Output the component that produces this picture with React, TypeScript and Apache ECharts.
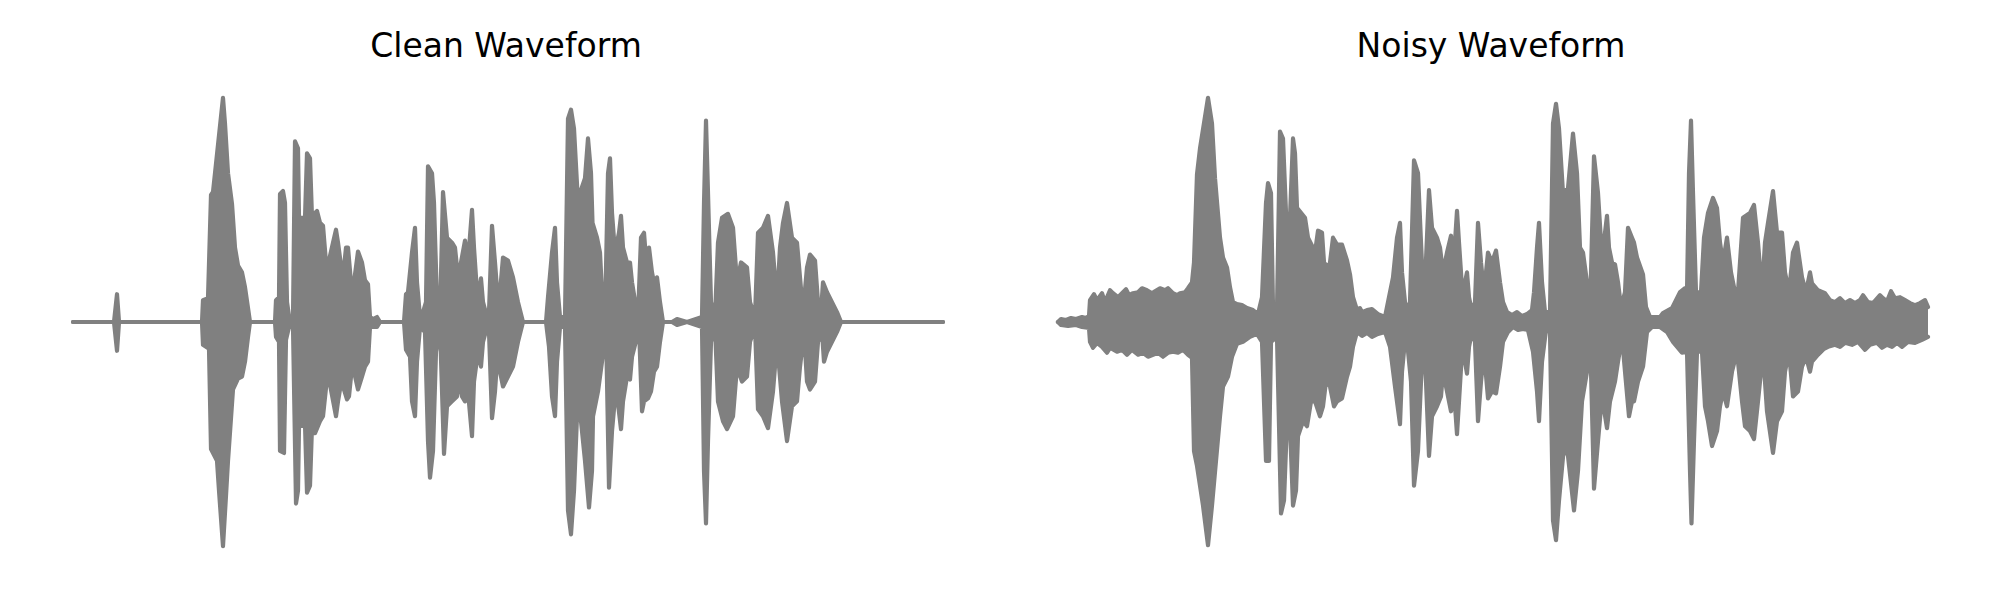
import React, { useEffect, useRef } from "react";
import * as echarts from "echarts";

// Panel titles
const panelTitles: string[] = ["Clean Waveform", "Noisy Waveform"];

// Envelope vertices [frame, amplitude] (frame 0..870, amplitude ±226)
const cleanTop: [number, number][] = [
  [0, 0], [41, 0], [44, 28], [46, 0], [129, 0], [130, 22], [135, 24], [138, 128], [140, 131], [142, 150],
  [150, 226], [152, 200], [155, 150], [159, 119], [162, 75], [165, 57], [169, 50], [172, 35], [175, 14], [177, 0],
  [202, 0], [203, 22], [206, 25], [207, 129], [210, 132], [212, 120], [214, 20], [216, 6], [220, 5], [222, 182],
  [225, 175], [226, 105], [232, 105], [234, 170], [237, 165], [239, 105], [242, 110], [244, 112], [247, 100], [250, 97],
  [253, 60], [256, 62], [260, 80], [263, 93], [265, 80], [268, 57], [271, 55], [273, 75], [275, 75], [278, 40],
  [281, 40], [285, 71], [289, 60], [292, 42], [295, 38], [297, 5], [300, 3], [304, 5], [307, 0], [331, 0],
  [333, 28], [335, 30], [339, 70], [342, 95], [344, 40], [347, 5], [350, 10], [353, 20], [355, 157], [359, 150],
  [361, 120], [364, 20], [367, 5], [370, 131], [374, 85], [379, 80], [382, 75], [385, 45], [388, 60], [392, 82],
  [395, 60], [399, 113], [401, 75], [404, 30], [406, 30], [408, 44], [410, 20], [414, 5], [416, 10], [419, 97],
  [422, 60], [425, 20], [427, 30], [430, 65], [435, 62], [440, 45], [445, 20], [450, 0], [473, 0], [475, 25],
  [479, 70], [482, 95], [484, 40], [487, 5], [492, 5], [495, 205], [498, 214], [501, 195], [505, 120], [507, 130],
  [512, 145], [515, 185], [518, 150], [519.5, 100], [524, 85], [527, 70], [529, 30], [532, 5], [535, 150], [537, 165],
  [539, 110], [542, 70], [546, 90], [548, 107], [550, 75], [554, 60], [557, 60], [559, 40], [563, 15], [565, 5],
  [568, 85], [571, 90], [574, 50], [576, 75], [579, 50], [581, 40], [584, 45], [587, 20], [590, 0], [599, 0],
  [604, 3], [614, 0], [629, 5], [631, 120], [633, 203], [635, 130], [638, 20], [642, 5], [645, 80], [649, 105],
  [655, 109], [660, 95], [664, 40], [668, 60], [674, 55], [677, 20], [682, 5], [685, 90], [690, 95], [695, 107],
  [700, 70], [704, 20], [707, 75], [710, 100], [714, 120], [719, 85], [724, 80], [727, 45], [730, 10], [734, 55],
  [737, 68], [742, 62], [745, 20], [748, 10], [750, 40], [754, 30], [759, 20], [764, 10], [768, 0], [870, 0],
];

const cleanBottom: [number, number][] = [
  [0, 0], [41, 0], [44, -29], [46, 0], [129, 0], [130, -23], [136, -27], [138, -128], [144, -140], [146, -170],
  [150, -226], [153, -175], [155, -140], [160, -68], [165, -57], [169, -55], [172, -40], [175, -15], [177, 0], [202, 0],
  [203, -15], [206, -20], [207, -130], [211, -132], [213, -18], [216, -5], [220, -5], [223, -183], [225, -170], [226, -105],
  [232, -103], [234, -172], [237, -165], [239, -105], [242, -112], [247, -100], [250, -95], [254, -57], [257, -63], [263, -95],
  [265, -80], [268, -62], [270, -65], [274, -78], [276, -75], [278, -55], [281, -50], [285, -68], [289, -55], [292, -45],
  [295, -40], [297, -5], [304, -5], [307, 0], [331, 0], [333, -28], [337, -35], [339, -80], [342, -95], [344, -40],
  [347, -5], [352, -10], [355, -120], [357, -157], [360, -130], [363, -30], [367, -5], [371, -133], [374, -85], [379, -80],
  [384, -75], [386, -55], [389, -75], [392, -80], [395, -70], [399, -115], [401, -60], [405, -30], [408, -45], [410, -20],
  [414, -5], [416, -10], [419, -97], [422, -70], [425, -25], [427, -50], [430, -65], [435, -55], [440, -45], [445, -20],
  [450, 0], [473, 0], [476, -25], [479, -75], [482, -95], [484, -40], [487, -5], [492, -5], [495, -190], [498, -214],
  [501, -170], [504, -95], [507, -90], [512, -140], [516, -187], [519, -150], [520, -95], [525, -70], [529, -40], [533, -5],
  [536, -167], [539, -110], [543, -65], [548, -108], [550, -80], [554, -55], [557, -58], [559, -35], [564, -15], [566, -5],
  [569, -90], [571, -80], [575, -77], [578, -70], [581, -50], [584, -45], [587, -20], [590, 0], [599, 0], [604, -3],
  [614, 0], [629, -5], [631, -150], [633, -203], [635, -120], [638, -20], [642, -5], [645, -80], [650, -100], [654, -108],
  [660, -95], [664, -45], [669, -60], [674, -55], [677, -20], [682, -5], [685, -88], [690, -95], [695, -107], [700, -70],
  [704, -20], [709, -80], [714, -120], [719, -85], [724, -80], [727, -45], [731, -10], [734, -60], [737, -68], [742, -60],
  [745, -20], [749, -10], [751, -40], [754, -30], [759, -20], [764, -10], [768, 0], [870, 0],
];

const noisyTop: [number, number][] = [
  [0, 0], [3, 3], [8, 2], [13, 4], [18, 3], [24, 5], [28, 4], [31, 6], [32, 22], [36, 28],
  [39, 22], [44, 29], [47, 20], [52, 32], [55, 29], [60, 25], [68, 33], [71, 27], [75, 29], [80, 30],
  [84, 34], [89, 32], [94, 29], [97, 31], [102, 34], [107, 32], [110, 34], [115, 29], [119, 27], [122, 29],
  [127, 30], [130, 34], [134, 40], [136, 60], [139, 149], [142, 175], [150, 226], [154, 200],
  [157, 145], [162, 85], [165, 65], [169, 55], [172, 35], [175, 20], [179, 18], [184, 17], [189, 14], [195, 12],
  [200, 8], [204, 25], [208, 120], [210, 140], [213, 130], [215, 15], [219, 12], [222, 192], [225, 185], [228, 110],
  [232, 105], [235, 185], [237, 170], [239, 115], [243, 110], [247, 105], [250, 85], [254, 77], [257, 70], [260, 92],
  [264, 90], [266, 60], [270, 55], [272, 60], [275, 85], [279, 78], [284, 78], [289, 62], [292, 48], [295, 25],
  [299, 12], [302, 14], [304, 10], [309, 12], [314, 13], [320, 8], [327, 5], [332, 30], [335, 45], [339, 85], [342, 100],
  [344, 50], [348, 10], [352, 20], [356, 163], [360, 150], [363, 80], [366, 15], [371, 133], [374, 95], [379, 85],
  [382, 75], [385, 50], [389, 70], [393, 87], [396, 65], [399, 112], [401, 80], [404, 35], [406, 35], [409, 50],
  [411, 25], [414, 10], [417, 20], [420, 100], [423, 60], [426, 30], [430, 70], [434, 60], [438, 72], [442, 40],
  [445, 20], [449, 10], [454, 7], [459, 10], [464, 6], [469, 8], [474, 12], [476, 30], [479, 75], [481, 100],
  [484, 40], [487, 10], [492, 10], [495, 200], [498, 220], [501, 195], [505, 130], [510, 135], [515, 190], [519, 150],
  [522, 75], [525, 70], [529, 40], [532, 10], [536, 167], [540, 130], [544, 65], [547, 90], [549, 107], [551, 75],
  [554, 60], [557, 58], [560, 40], [563, 15], [567, 30], [570, 95], [574, 85], [576, 80], [579, 65], [585, 48],
  [588, 15], [592, 5], [602, 5], [605, 9], [614, 14], [622, 30], [627, 34], [629, 30], [631, 150], [633, 203],
  [635, 130], [638, 30], [643, 30], [646, 85], [650, 110], [655, 125], [659, 115], [662, 80], [665, 60], [669, 85],
  [673, 50], [677, 30], [680, 30], [685, 105], [692, 110], [696, 118], [700, 80], [704, 30], [707, 80], [710, 100],
  [715, 132], [719, 90], [724, 90], [727, 50], [731, 30], [735, 70], [739, 80], [744, 45], [748, 30], [752, 50],
  [754, 39], [760, 32], [767, 29], [772, 22], [777, 20], [782, 24], [787, 19], [792, 22], [797, 19], [802, 22],
  [805, 27], [810, 20], [815, 19], [822, 27], [825, 24], [829, 21], [833, 31], [837, 24], [842, 25], [847, 22],
  [852, 19], [857, 17], [862, 19], [867, 22], [870, 15],
];

const noisyBottom: [number, number][] = [
  [0, 0], [3, -3], [10, -4], [18, -3], [24, -5], [31, -6], [32, -20], [35, -26], [39, -21], [44, -25],
  [49, -31], [52, -26], [59, -30], [64, -28], [69, -33], [74, -28], [80, -33], [85, -31], [90, -35], [95, -33],
  [100, -31], [105, -35], [110, -31], [115, -30], [120, -31], [125, -28], [130, -33], [134, -36], [136, -130], [139, -145],
  [145, -185], [150, -225], [154, -185], [158, -140], [162, -95], [165, -65],
  [170, -55], [174, -35], [179, -22], [185, -20], [192, -15], [199, -12], [204, -20], [208, -140], [211, -140], [213, -20],
  [219, -15], [223, -193], [226, -180], [229, -100], [232, -105], [235, -185], [238, -170], [240, -115], [245, -100], [249, -105],
  [253, -80], [257, -80], [262, -95], [265, -85], [268, -60], [272, -65], [276, -85], [279, -80], [284, -77], [289, -55],
  [292, -45], [295, -25], [299, -10], [304, -14], [309, -11], [314, -15], [320, -12], [327, -10], [332, -25], [337, -65],
  [342, -103], [344, -50], [348, -8], [353, -60], [356, -165], [360, -130], [363, -60], [366, -10], [371, -135], [374, -95],
  [379, -85], [383, -75], [385, -50], [389, -70], [393, -90], [396, -70], [399, -113], [401, -80], [404, -30], [407, -40],
  [409, -52], [411, -25], [414, -10], [417, -20], [420, -100], [423, -60], [426, -30], [430, -77], [434, -70], [438, -72],
  [442, -45], [445, -20], [450, -10], [455, -5], [460, -8], [465, -7], [470, -8], [475, -30], [479, -70], [481, -100],
  [484, -40], [488, -8], [492, -10], [495, -200], [498, -220], [501, -180], [506, -125], [510, -135], [516, -190], [520, -150],
  [524, -80], [529, -50], [532, -10], [536, -168], [540, -120], [544, -75], [549, -107], [552, -80], [557, -60], [560, -40],
  [564, -15], [567, -50], [571, -95], [574, -80], [576, -80], [580, -60], [585, -45], [589, -10], [594, -5], [602, -5],
  [609, -10], [615, -20], [624, -31], [629, -30], [632, -150], [633.5, -203], [636, -120], [639, -30], [644, -30],
  [647, -85], [650, -100], [654, -125], [659, -110], [662, -85], [665, -70], [669, -85], [674, -50], [679, -30], [684, -80],
  [687, -105], [692, -110], [696, -118], [700, -80], [705, -30], [709, -90], [715, -132], [719, -100], [724, -90], [727, -50],
  [731, -30], [735, -75], [740, -70], [744, -45], [748, -35], [752, -50], [754, -40], [760, -33], [766, -27], [770, -25],
  [777, -23], [782, -25], [787, -21], [794, -23], [800, -20], [807, -28], [812, -23], [819, -21], [824, -26], [829, -23],
  [834, -25], [839, -21], [844, -25], [850, -20], [857, -21], [864, -18], [870, -15],
];

const WAVE_COLOR = "#808080";

export default function App() {
  const ref = useRef<HTMLDivElement>(null);

  useEffect(() => {
    if (!ref.current) return;
    const chart = echarts.init(ref.current, null, { renderer: "svg" });

    const panelLeft = [73, 1058];
    const titleX = [506, 1491];

    const makeSeries = (data: [number, number][], idx: number) => ({
      type: "line",
      xAxisIndex: idx,
      yAxisIndex: idx,
      data,
      symbol: "none",
      showSymbol: false,
      silent: true,
      smooth: false,
      lineStyle: { color: WAVE_COLOR, width: 4.2, cap: "round", join: "round" },
      areaStyle: { color: WAVE_COLOR, opacity: 1, origin: "auto" },
    });

    chart.setOption({
      animation: false,
      backgroundColor: "#ffffff",
      grid: panelLeft.map((left) => ({ left, top: 72, width: 870, height: 500 })),
      xAxis: [0, 1].map((i) => ({ type: "value", gridIndex: i, min: 0, max: 870, show: false })),
      yAxis: [0, 1].map((i) => ({ type: "value", gridIndex: i, min: -252, max: 252, show: false })),
      series: [
        makeSeries(cleanTop, 0),
        makeSeries(cleanBottom, 0),
        makeSeries(noisyTop, 1),
        makeSeries(noisyBottom, 1),
      ],
      graphic: panelTitles.map((text, i) => ({
        type: "text",
        x: titleX[i],
        y: 45,
        style: {
          text,
          fontSize: 33,
          fontFamily: "DejaVu Sans",
          fill: "#000000",
          align: "center",
          verticalAlign: "middle",
        },
      })),
    });

    return () => chart.dispose();
  }, []);

  return (
    <div
      ref={ref}
      style={{ position: "absolute", left: 0, top: 0, width: 2000, height: 600 }}
    />
  );
}
